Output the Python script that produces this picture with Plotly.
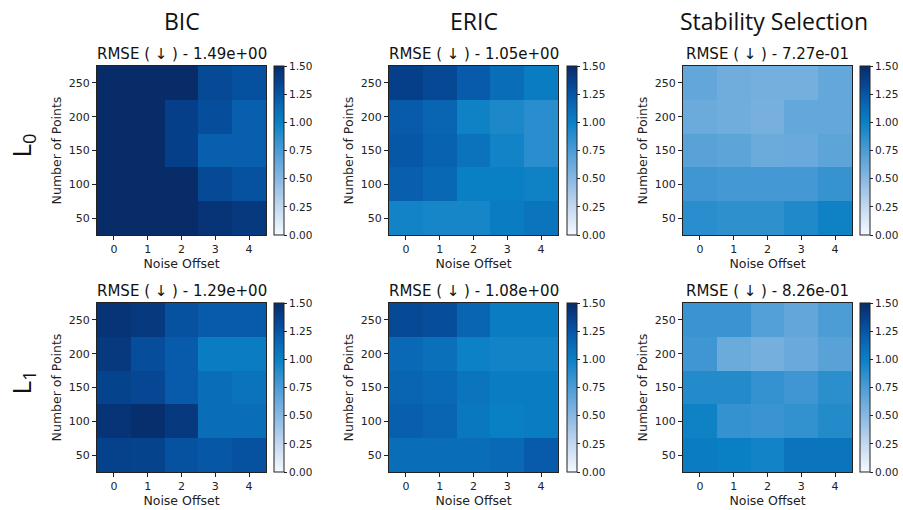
import plotly.graph_objects as go

noise_offset = [0, 1, 2, 3, 4]
num_points = [50, 100, 150, 200, 250]
methods = ["BIC", "ERIC", "Stability Selection"]
penalties = ["L<sub>0</sub>", "L<sub>1</sub>"]

# rows ordered from y=50 (bottom) to y=250 (top)
bic_l0 = [
    [1.50, 1.50, 1.50, 1.45, 1.42],
    [1.50, 1.50, 1.50, 1.32, 1.27],
    [1.50, 1.50, 1.38, 1.20, 1.20],
    [1.50, 1.50, 1.38, 1.30, 1.20],
    [1.50, 1.50, 1.52, 1.32, 1.28],
]
eric_l0 = [
    [0.97, 0.95, 0.95, 1.02, 1.07],
    [1.20, 1.15, 1.00, 1.00, 0.98],
    [1.24, 1.18, 1.08, 0.97, 0.88],
    [1.22, 1.17, 0.98, 0.93, 0.88],
    [1.38, 1.33, 1.22, 1.12, 1.02],
]
stab_l0 = [
    [0.88, 0.86, 0.86, 0.92, 0.98],
    [0.80, 0.78, 0.78, 0.78, 0.83],
    [0.70, 0.68, 0.62, 0.63, 0.68],
    [0.62, 0.60, 0.57, 0.65, 0.65],
    [0.66, 0.60, 0.58, 0.58, 0.65],
]
bic_l1 = [
    [1.37, 1.36, 1.27, 1.24, 1.27],
    [1.45, 1.48, 1.42, 1.12, 1.12],
    [1.36, 1.34, 1.22, 1.12, 1.08],
    [1.42, 1.30, 1.22, 1.02, 1.02],
    [1.45, 1.42, 1.27, 1.22, 1.22],
]
eric_l1 = [
    [1.12, 1.12, 1.12, 1.14, 1.22],
    [1.20, 1.17, 1.05, 1.00, 1.02],
    [1.17, 1.14, 1.07, 1.02, 1.02],
    [1.14, 1.10, 0.99, 0.97, 0.97],
    [1.32, 1.30, 1.17, 1.02, 1.02],
]
stab_l1 = [
    [1.02, 1.00, 0.97, 1.07, 1.07],
    [0.98, 0.84, 0.82, 0.85, 0.90],
    [0.90, 0.90, 0.84, 0.80, 0.87],
    [0.80, 0.62, 0.58, 0.63, 0.70],
    [0.82, 0.82, 0.72, 0.66, 0.75],
]
rmse_titles = [
    ["1.49e+00", "1.05e+00", "7.27e-01"],
    ["1.29e+00", "1.08e+00", "8.26e-01"],
]
grid = [[bic_l0, eric_l0, stab_l0], [bic_l1, eric_l1, stab_l1]]

cb_vals = [0, 0.25, 0.5, 0.75, 1.0, 1.25, 1.5]
cb_text = ["0.00", "0.25", "0.50", "0.75", "1.00", "1.25", "1.50"]

colorscale = [
    [0.0, "#f5f9ff"],
    [0.167, "#c4d8ef"],
    [0.333, "#88b8e2"],
    [0.5, "#4c9cd6"],
    [0.667, "#0a80c4"],
    [0.75, "#0a6cb8"],
    [0.833, "#0656a6"],
    [0.917, "#06408a"],
    [1.0, "#082c68"],
]

W, H = 903, 510
col_x = [97, 389, 683]
cb_x = [274, 567, 860]
row_y = [66, 303]
size = 169

fig = go.Figure()
tickfont = dict(family="DejaVu Sans", size=11, color="#222")
titlefont = dict(family="DejaVu Sans", size=12.5, color="#222")
annotations = []
for r in range(2):
    for c in range(3):
        i = r * 3 + c + 1
        xa = "x" if i == 1 else f"x{i}"
        ya = "y" if i == 1 else f"y{i}"
        x0 = col_x[c] / W
        x1 = (col_x[c] + size) / W
        y1 = 1 - row_y[r] / H
        y0 = 1 - (row_y[r] + size) / H
        fig.add_trace(go.Heatmap(
            z=grid[r][c], x=noise_offset, y=num_points,
            colorscale=colorscale, zmin=0, zmax=1.5,
            xaxis=xa, yaxis=ya,
            colorbar=dict(
                x=cb_x[c] / W, xanchor="left", xpad=0,
                y=(y0 + y1) / 2, yanchor="middle", ypad=0,
                len=size, lenmode="pixels", thickness=10,
                outlinewidth=1, outlinecolor="#222",
                tickvals=cb_vals, ticktext=cb_text,
                ticks="outside", ticklen=3, tickcolor="#222",
                tickfont=dict(family="DejaVu Sans", size=10.5, color="#222"),
            ),
        ))
        axkey = "xaxis" if i == 1 else f"xaxis{i}"
        aykey = "yaxis" if i == 1 else f"yaxis{i}"
        fig.layout[axkey] = dict(
            domain=[x0, x1], anchor=ya, range=[-0.5, 4.5],
            tickvals=noise_offset, ticks="outside", ticklen=4,
            tickcolor="#222", showline=True, mirror=True,
            linecolor="#222", linewidth=1, showgrid=False, zeroline=False,
            tickfont=tickfont, automargin=False,
            title=dict(text="Noise Offset", standoff=2, font=titlefont),
        )
        fig.layout[aykey] = dict(
            domain=[y0, y1], anchor=xa, range=[25, 275],
            tickvals=num_points, ticks="outside", ticklen=4,
            tickcolor="#222", showline=True, mirror=True,
            linecolor="#222", linewidth=1, showgrid=False, zeroline=False,
            tickfont=tickfont, automargin=False,
            title=dict(text="Number of Points", standoff=4, font=titlefont),
        )
        annotations.append(dict(
            text=f"RMSE ( ↓ ) - {rmse_titles[r][c]}",
            x=(x0 + x1) / 2, y=y1, xref="paper", yref="paper",
            xanchor="center", yanchor="bottom", yshift=1, showarrow=False,
            font=dict(family="DejaVu Sans", size=15, color="#111"),
        ))

header_dx = [0, 0, 6]
for c in range(3):
    annotations.append(dict(
        text=methods[c], x=(col_x[c] + size / 2 + header_dx[c]) / W, y=1 - 21 / H,
        xref="paper", yref="paper", xanchor="center", yanchor="middle",
        showarrow=False, font=dict(family="Open Sans", size=23, color="#111"),
    ))
for r in range(2):
    annotations.append(dict(
        text=penalties[r], x=21 / W, y=1 - (row_y[r] + size / 2 - 5) / H,
        xref="paper", yref="paper", xanchor="center", yanchor="middle",
        textangle=-90, showarrow=False,
        font=dict(family="Open Sans", size=26, color="#111"),
    ))

fig.update_layout(
    width=W, height=H, margin=dict(l=0, r=0, t=0, b=0),
    plot_bgcolor="white", paper_bgcolor="white",
    annotations=annotations, showlegend=False,
)
fig.write_html(
    "out.html",
    config={"displayModeBar": False},
    post_script="document.body.style.margin='0';document.body.style.overflow='hidden';",
)
